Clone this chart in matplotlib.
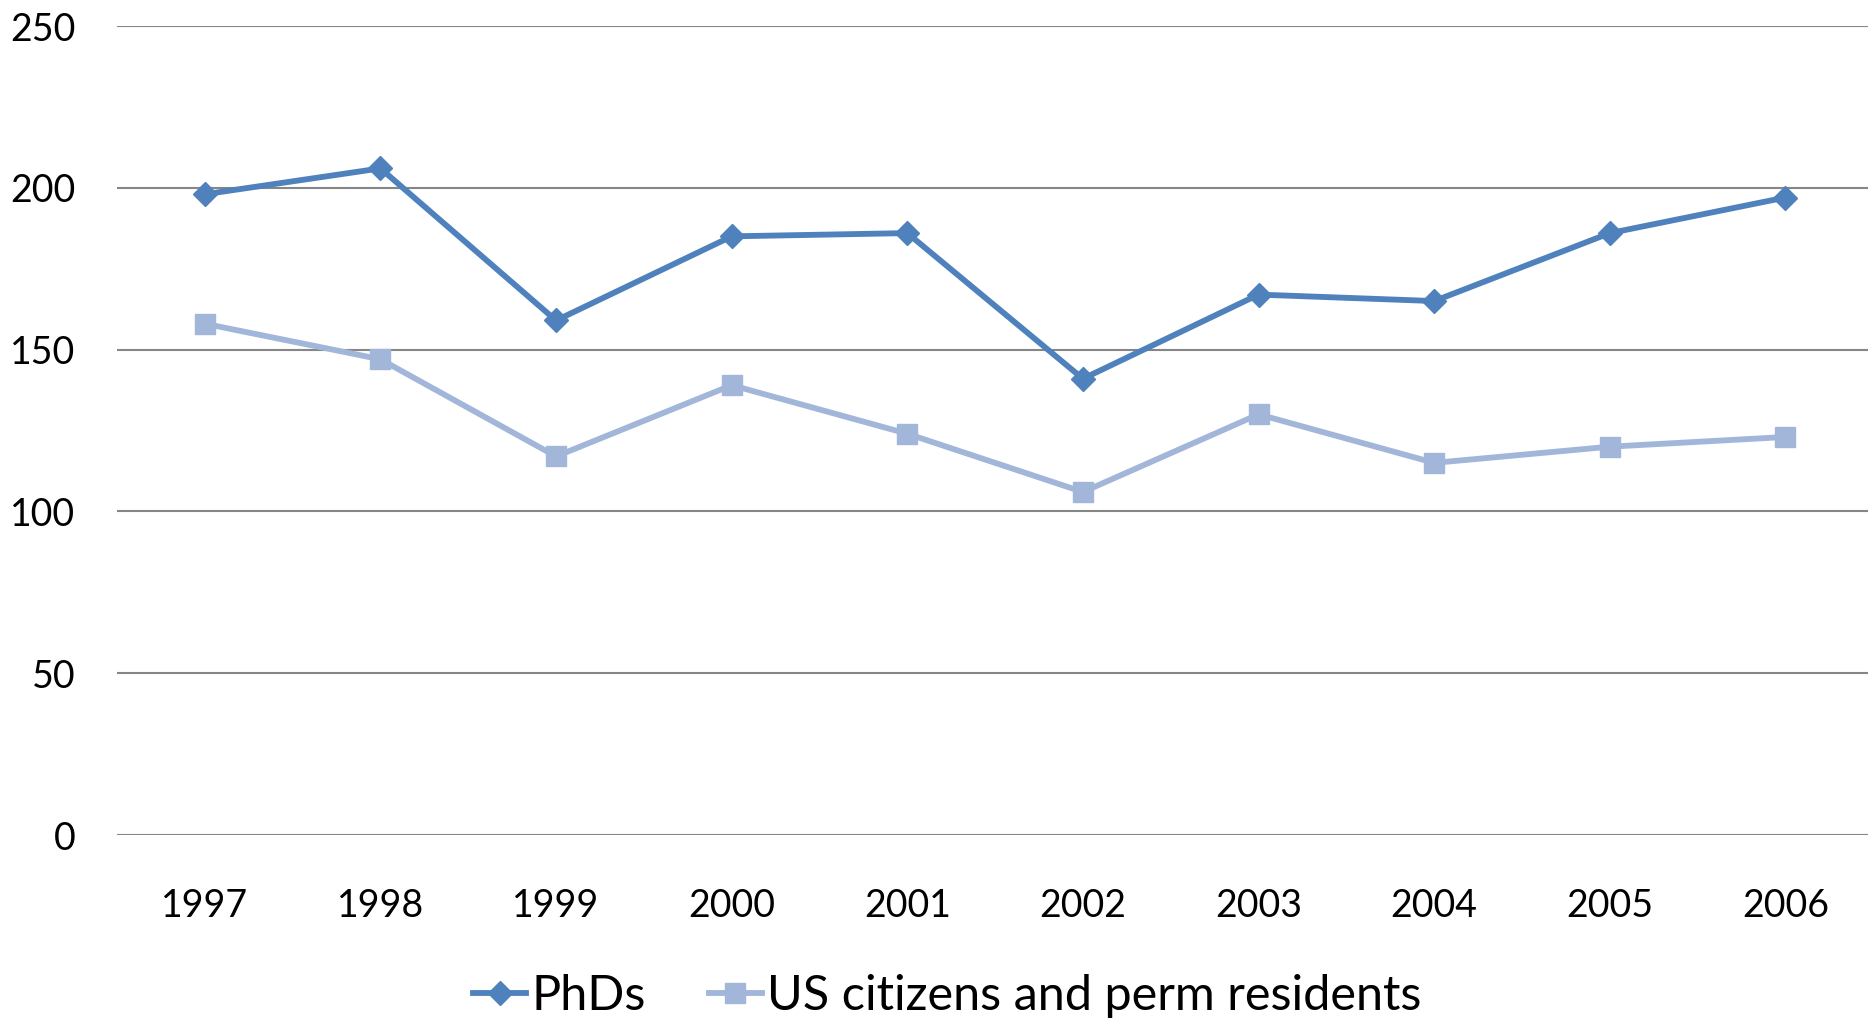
import matplotlib
matplotlib.use("Agg")
import matplotlib.pyplot as plt

# data
years = ["1997", "1998", "1999", "2000", "2001", "2002", "2003", "2004", "2005", "2006"]
phds = [198, 206, 159, 185, 186, 141, 167, 165, 186, 197]
us_citizens = [158, 147, 117, 139, 124, 106, 130, 115, 120, 123]

plt.rcParams['font.family'] = ['Lato', 'DejaVu Sans']

fig = plt.figure(figsize=(18.68, 10.21), dpi=100)
ax = fig.add_axes([117/1868, (1021-835)/1021, 1 - 117/1868, (835-26)/1021])

x = range(len(years))
ax.plot(x, phds, color='#4F81BD', lw=4.2, marker='D', ms=12, label='PhDs')
ax.plot(x, us_citizens, color='#A2B6D9', lw=4.2, marker='s', ms=14.5,
        label='US citizens and perm residents')

ax.set_ylim(0, 250)
ax.set_yticks([0, 50, 100, 150, 200, 250])
ax.set_xlim(-0.5, 9.47)
ax.set_xticks(list(x))
ax.set_xticklabels(years)
ax.grid(axis='y', color='#868686', lw=1.5)
ax.set_axisbelow(True)
for s in ax.spines.values():
    s.set_visible(False)
ax.tick_params(axis='y', length=0, pad=30, labelsize=27)
ax.tick_params(axis='x', length=0, pad=38, labelsize=27)

fig.legend(loc='center', bbox_to_anchor=(0.507, 1 - 996/1021), ncol=2, frameon=False,
           fontsize=35, handlelength=1.1, handletextpad=0.1, columnspacing=1.3)

fig.savefig('out.png', dpi=100)
